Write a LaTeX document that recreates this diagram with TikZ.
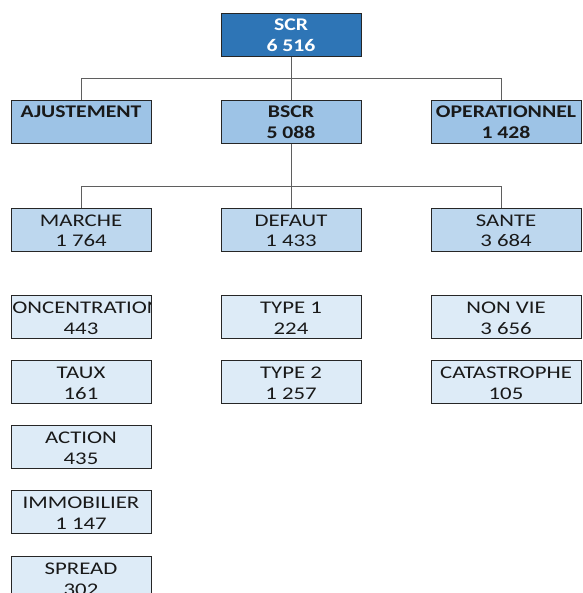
\documentclass[tikz,border=0pt]{standalone}
\usepackage{fontspec}
\setmainfont{Carlito}[FakeStretch=1.28, BoldFeatures={FakeStretch=1.22}]
\definecolor{lvla}{HTML}{2E75B6}
\definecolor{lvlb}{HTML}{9DC3E6}
\definecolor{lvlc}{HTML}{BDD7EE}
\definecolor{lvld}{HTML}{DDEBF7}
\definecolor{bordc}{HTML}{262626}
\definecolor{connc}{HTML}{5F5F5F}
\tikzset{
  cellbase/.style={draw=bordc, line width=1pt, rectangle, minimum height=43pt, inner sep=0pt, anchor=north west},
  boxa/.style={cellbase, fill=lvla},
  boxb/.style={cellbase, fill=lvlb},
  boxc/.style={cellbase, fill=lvlc},
  boxd/.style={cellbase, fill=lvld},
  celltext/.style={anchor=base, inner sep=0pt, font=\fontsize{17.8}{21}\selectfont, text=black!90},
  celltextw/.style={celltext, text=white, font=\fontsize{17.8}{21}\selectfont\bfseries},
  celltextb/.style={celltext, font=\fontsize{17.8}{21}\selectfont\bfseries},
  conn/.style={draw=connc, line width=0.8pt},
}
% name, x, y, width, box style, text style, line1, line2
\newcommand\cellbox[8]{%
  \node[#5, minimum width=#4pt] (#1) at (#2,#3) {};
  \begin{scope}
    \clip ({#2+0.5},{#3+0.5}) rectangle ({#2+#4-0.5},{#3+42.5});
    \node[#6] (#1-l1) at ({#2+#4/2},{#3+18}) {#7};
    \node[#6] (#1-l2) at ({#2+#4/2},{#3+39}) {#8};
  \end{scope}
}
\begin{document}
\begin{tikzpicture}[x=1pt,y=-1pt]
\useasboundingbox (0,0) rectangle (582,593);
\clip (0,0) rectangle (582,593);
% level 1
\cellbox{scr}{221}{13}{140}{boxa}{celltextw}{SCR}{6 516}
% level 2
\cellbox{ajust}{11}{100}{140}{boxb}{celltextb}{AJUSTEMENT}{}
\cellbox{bscr}{221}{100}{140}{boxb}{celltextb}{BSCR}{5 088}
\cellbox{ope}{431}{100}{150}{boxb}{celltextb}{OPERATIONNEL}{1 428}
% level 3
\cellbox{marche}{11}{208}{140}{boxc}{celltext}{MARCHE}{1 764}
\cellbox{defaut}{221}{208}{140}{boxc}{celltext}{DEFAUT}{1 433}
\cellbox{sante}{431}{208}{150}{boxc}{celltext}{SANTE}{3 684}
% level 4
\cellbox{conc}{11}{295}{140}{boxd}{celltext}{CONCENTRATION}{443}
\cellbox{taux}{11}{360}{140}{boxd}{celltext}{TAUX}{161}
\cellbox{action}{11}{425}{140}{boxd}{celltext}{ACTION}{435}
\cellbox{immo}{11}{490}{140}{boxd}{celltext}{IMMOBILIER}{1 147}
\cellbox{spread}{11}{556}{140}{boxd}{celltext}{SPREAD}{302}
\cellbox{typea}{221}{295}{140}{boxd}{celltext}{TYPE 1}{224}
\cellbox{typeb}{221}{360}{140}{boxd}{celltext}{TYPE 2}{1 257}
\cellbox{nonvie}{431}{295}{150}{boxd}{celltext}{NON VIE}{3 656}
\cellbox{cata}{431}{360}{150}{boxd}{celltext}{CATASTROPHE}{105}
% connectors
\coordinate (opetop) at (501,100);
\coordinate (santetop) at (501,208);
\draw[conn] (scr.south) -- (bscr.north);
\draw[conn] (ajust.north) -- ++(0,-22) -| (opetop);
\draw[conn] (bscr.south) -- (defaut.north);
\draw[conn] (marche.north) -- ++(0,-22) -| (santetop);
\end{tikzpicture}
\end{document}
